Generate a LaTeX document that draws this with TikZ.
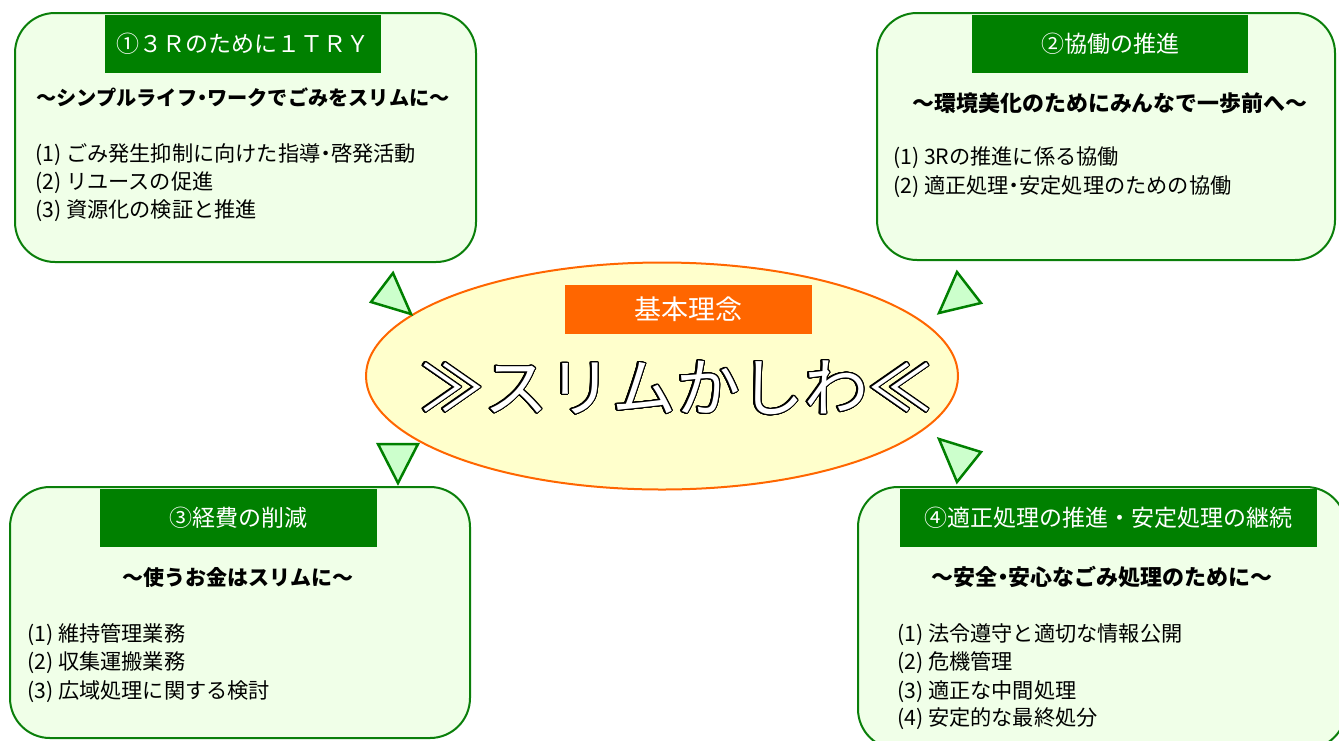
\documentclass[tikz,border=0pt]{standalone}
\usepackage{fontspec}
\setmainfont{Noto Sans CJK JP}
\usepackage{contour}
\contourlength{1.1pt}
\contournumber{32}
\usetikzlibrary{shapes.geometric}
\definecolor{hgreen}{HTML}{008000}
\definecolor{bgreen}{HTML}{0A7F0A}
\definecolor{bfill}{HTML}{F0FFE8}
\definecolor{tfill}{HTML}{CCFFCC}
\definecolor{eorange}{HTML}{FF6600}
\definecolor{efill}{HTML}{FFFFCC}
\newcommand{\ndot}{{\addfontfeature{RawFeature=+palt}・}}
\begin{document}
\begin{tikzpicture}[x=1pt,y=-1pt,
  box/.style={draw=bgreen, line width=2pt, fill=bfill, rounded corners=40pt, inner sep=0pt},
  head/.style={fill=hgreen, text=white, inner sep=0pt, minimum height=58pt, font=\fontsize{23}{23}\selectfont},
  subt/.style={inner sep=0pt, font=\bfseries\fontsize{21}{21}\selectfont},
  item/.style={anchor=west, inner sep=0pt, font=\fontsize{21.2}{21.2}\selectfont},
  tri/.style={draw=hgreen, line width=2.5pt, fill=tfill, line join=miter}]
\useasboundingbox (0,0) rectangle (1339,740);
\clip (0,0) rectangle (1339,740);
\fill[white] (0,0) rectangle (1339,740);

% boxes
\node[box, minimum width=461pt, minimum height=249pt] (b1) at (245.5,137.5) {};
\node[box, minimum width=458pt, minimum height=247pt] (b2) at (1106,136.5) {};
\node[box, minimum width=460pt, minimum height=251pt] (b3) at (240,612.5) {};
\node[box, minimum width=488pt, minimum height=262pt] (b4) at (1102,618) {};

% headers
\node[head, minimum width=276pt] (h1) at (243,44) {①３Ｒのために１ＴＲＹ};
\node[head, minimum width=276pt] (h2) at (1110,44) {②協働の推進};
\node[head, minimum width=277pt] (h3) at (238.5,518) {③経費の削減};
\node[head, minimum width=417pt] (h4) at (1108.5,518) {④適正処理の推進・安定処理の継続};

% subtitles
\node[subt, font=\bfseries\fontsize{20.2}{20.2}\selectfont] (s1) at (243,97) {～シンプルライフ\ndot ワークでごみをスリムに～};
\node[subt, font=\bfseries\fontsize{21.9}{21.9}\selectfont] (s2) at (1110,103) {～環境美化のためにみんなで一歩前へ～};
\node[subt] (s3) at (238,577) {～使うお金はスリムに～};
\node[subt, font=\bfseries\fontsize{22}{22}\selectfont] (s4) at (1102,577) {～安全\ndot 安心なごみ処理のために～};

% items
\node[item] (i11) at (35,155) {(1) ごみ発生抑制に向けた指導\ndot 啓発活動};
\node[item] (i12) at (35,183) {(2) リユースの促進};
\node[item] (i13) at (35,211) {(3) 資源化の検証と推進};

\node[item] (i21) at (893,158) {(1) 3Rの推進に係る協働};
\node[item] (i22) at (893,187) {(2) 適正処理\ndot 安定処理のための協働};

\node[item] (i31) at (27,635) {(1) 維持管理業務};
\node[item] (i32) at (27,663) {(2) 収集運搬業務};
\node[item] (i33) at (27,692) {(3) 広域処理に関する検討};

\node[item] (i41) at (897,635) {(1) 法令遵守と適切な情報公開};
\node[item] (i42) at (897,663) {(2) 危機管理};
\node[item] (i43) at (897,692) {(3) 適正な中間処理};
\node[item] (i44) at (897,719) {(4) 安定的な最終処分};

% center ellipse
\node[ellipse, draw=eorange, fill=efill, line width=2pt, minimum width=592pt, minimum height=227pt, inner sep=0pt] (e) at (662,376) {};
\node[fill=eorange, text=white, inner sep=0pt, minimum width=247pt, minimum height=49pt, font=\fontsize{27}{27}\selectfont] (kh) at (688.5,309.5) {基本理念};
\node[inner sep=0pt, font=\fontsize{64}{64}\selectfont] (slogan) at (676,388) {\contour{black}{\textcolor{white}{≫スリムかしわ≪}}};

% triangles
\draw[tri] (393,273) -- (371,302) -- (411,314) -- cycle;
\draw[tri] (957,272) -- (981,303) -- (939,313) -- cycle;
\draw[tri] (939,439) -- (981,452) -- (957,482) -- cycle;
\draw[tri] (378,444) -- (418,444) -- (398,483) -- cycle;
\end{tikzpicture}
\end{document}
